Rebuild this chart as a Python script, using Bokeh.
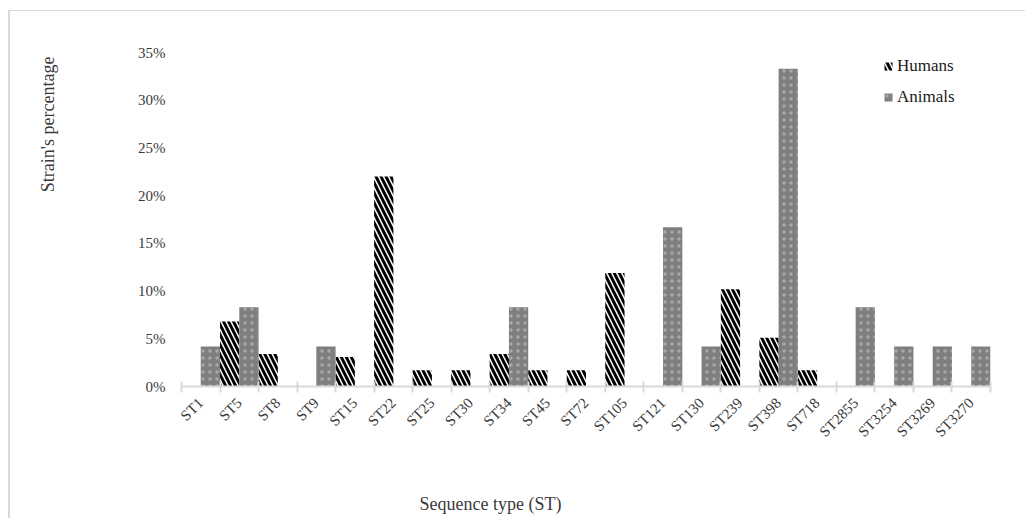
import math
import numpy as np
from bokeh.plotting import figure
from bokeh.models import (ColumnDataSource, FixedTicker, PrintfTickFormatter, Range1d,
                          LinearAxis, Title)
from bokeh.transform import dodge
from bokeh.embed import file_html
from bokeh.resources import INLINE

categories = ["ST1", "ST5", "ST8", "ST9", "ST15", "ST22", "ST25", "ST30", "ST34", "ST45",
              "ST72", "ST105", "ST121", "ST130", "ST239", "ST398", "ST718", "ST2855",
              "ST3254", "ST3269", "ST3270"]
humans = [0, 6.8, 3.4, 0, 3.1, 22.0, 1.7, 1.7, 3.4, 1.7, 1.7, 11.9, 0, 0, 10.2, 5.1, 1.7,
          0, 0, 0, 0]
animals = [4.2, 8.3, 0, 4.2, 0, 0, 0, 0, 8.3, 0, 0, 0, 16.7, 4.2, 0, 33.3, 0, 8.3, 4.2,
           4.2, 4.2]
y_ticks = [0, 5, 10, 15, 20, 25, 30, 35]

FONT = "Liberation Serif"
TXT = "#3a3a3a"
n = len(categories)
pos = list(range(n))
src = ColumnDataSource(dict(x=pos, cat=categories, humans=humans, animals=animals))

p = figure(width=1017, height=508, output_backend="svg", toolbar_location=None,
           x_range=Range1d(-0.5, n - 0.5), y_range=Range1d(0, 35),
           min_border_top=41, min_border_right=37, min_border_left=171,
           min_border_bottom=133)
p.margin = (10, 0, 0, 8)
p.styles = {"border-top": "1px solid #d9d9d9", "border-left": "2px solid #d9d9d9"}

p.vbar(x=dodge("x", -0.25, range=p.x_range), top="humans", width=0.5, source=src,
       fill_color="white", hatch_pattern="left_diagonal_line", hatch_color="black",
       hatch_weight=3, hatch_scale=10, line_color=None, legend_label="Humans")
p.vbar(x=dodge("x", 0.25, range=p.x_range), top="animals", width=0.5, source=src,
       fill_color="#7f7f7f", hatch_pattern="dot", hatch_color="#a8a8a8", hatch_weight=1,
       hatch_scale=7, line_color=None, legend_label="Animals")

p.xgrid.grid_line_color = None
p.ygrid.grid_line_color = None
p.outline_line_color = None

# x axis: labels at centres, tick marks at category boundaries
xa = p.xaxis[0]
xa.ticker = FixedTicker(ticks=pos, minor_ticks=[i - 0.5 for i in range(n + 1)])
xa.major_label_overrides = {i: c for i, c in zip(pos, categories)}
xa.major_label_orientation = math.pi / 4
xa.major_tick_line_color = None
xa.minor_tick_line_color = "#d9d9d9"
xa.minor_tick_line_width = 2
xa.minor_tick_in = 5
xa.minor_tick_out = 6
xa.axis_line_color = "#d9d9d9"
xa.axis_line_width = 2
xa.major_label_text_font = FONT
xa.major_label_text_font_size = "15px"
xa.major_label_text_color = TXT
xa.major_label_standoff = 8

ya = p.yaxis[0]
ya.ticker = FixedTicker(ticks=y_ticks)
ya.formatter = PrintfTickFormatter(format="%d%%")
ya.axis_line_color = None
ya.major_tick_line_color = None
ya.major_tick_out = 0
ya.major_tick_in = 0
ya.minor_tick_line_color = None
ya.major_label_text_font = FONT
ya.major_label_text_font_size = "15px"
ya.major_label_text_color = TXT
ya.major_label_standoff = 16


def spacer_axis(gap):
    # an empty axis (blank label) that only reserves space before the title
    return LinearAxis(ticker=FixedTicker(ticks=[]), axis_line_color=None,
                      major_tick_line_color=None, minor_tick_line_color=None,
                      major_tick_out=0, major_tick_in=0, minor_tick_out=0,
                      minor_tick_in=0, axis_label="\u00a0", axis_label_standoff=gap,
                      axis_label_text_font=FONT, axis_label_text_font_size="18px")


p.add_layout(spacer_axis(20), "below")
p.add_layout(spacer_axis(55), "left")

p.add_layout(Title(text="Sequence type (ST)", align="left", offset=238, standoff=0,
                   text_font=FONT, text_font_size="18px", text_font_style="normal",
                   text_color=TXT), "below")
p.add_layout(Title(text="Strain's percentage", align="right", offset=4, standoff=0,
                   text_font=FONT, text_font_size="18px", text_font_style="normal",
                   text_color=TXT), "left")

lg = p.legend[0]
lg.location = (702, 279)
lg.border_line_color = None
lg.background_fill_alpha = 0
lg.label_text_font = FONT
lg.label_text_font_size = "17px"
lg.label_text_color = "#1a1a1a"
lg.glyph_width = 10
lg.glyph_height = 10
lg.spacing = 11
lg.margin = 0
lg.padding = 5
lg.label_standoff = 4

open("out.html", "w").write(file_html(p, INLINE))
